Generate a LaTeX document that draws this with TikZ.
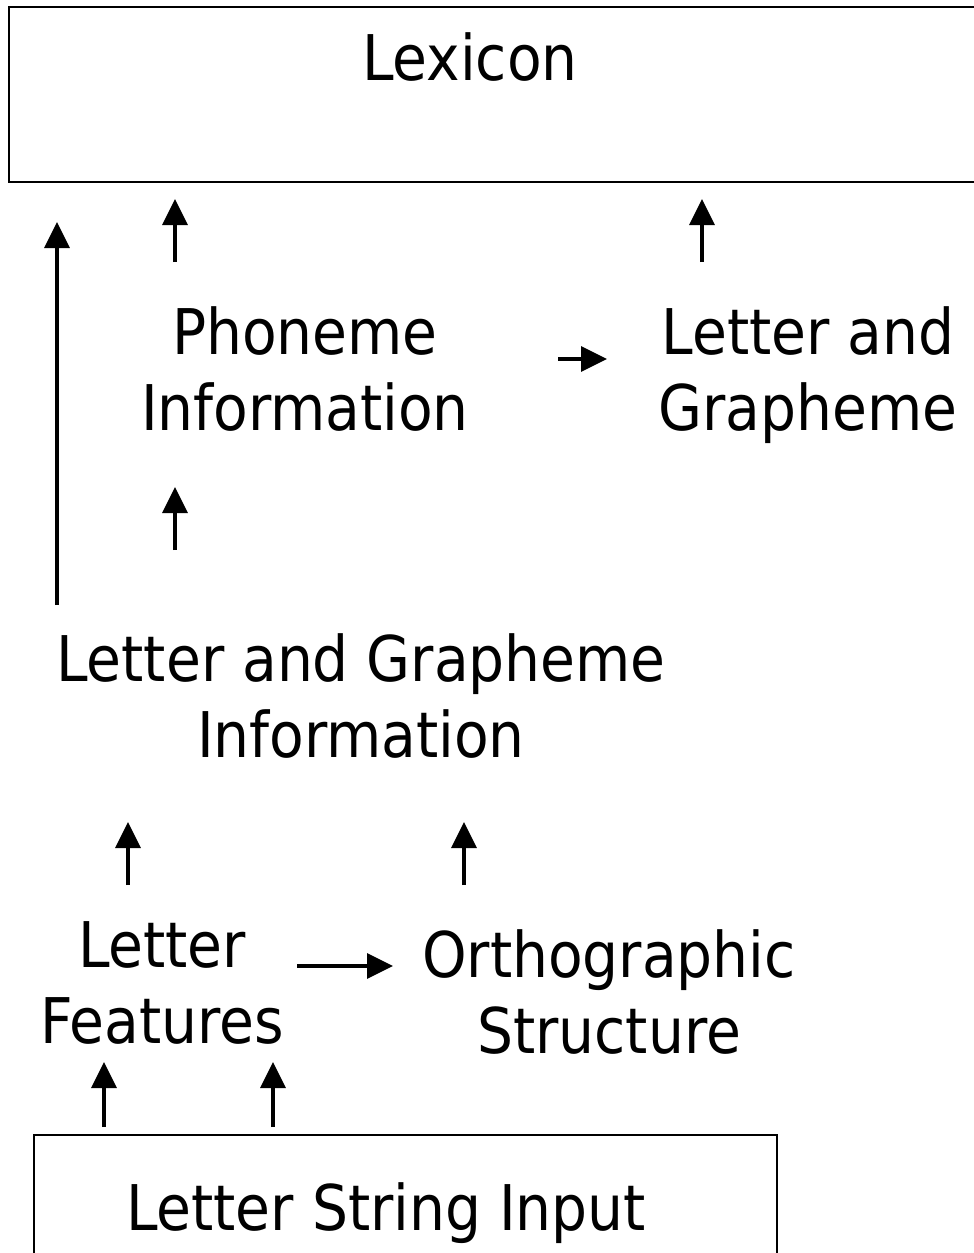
\documentclass[tikz,border=0pt]{standalone}
\usepackage{fontspec}
\setmainfont{DejaVu Sans Condensed}
\usetikzlibrary{arrows.meta}
\begin{document}
\begin{tikzpicture}[x=1pt,y=-1pt,
  lbl/.style={inner sep=0pt,align=center,font=\fontsize{63}{76}\selectfont,anchor=base},
  upar/.style={line width=3.5pt,-{Triangle[width=25pt,length=26pt]}},
  boxline/.style={line width=1.8pt}]
\useasboundingbox (0,0) rectangle (974,1253);
% boxes
\draw[boxline] (980,7) -- (9,7) -- (9,182) -- (980,182);
\draw[boxline] (34,1260) -- (34,1135) -- (777,1135) -- (777,1260);
% texts (base anchor = baseline of last line)
\node[lbl] (lex) at (470,80) {Lexicon};
\node[lbl] (phon) at (305,430) {Phoneme\\Information};
\node[lbl] (lg1) at (808,430) {Letter and\\Grapheme};
\node[lbl] (lgi) at (361,757) {Letter and Grapheme\\Information};
\node[lbl] (lf) at (162,1043) {Letter\\Features};
\node[lbl] (orth) at (609,1053) {Orthographic\\Structure};
\node[lbl] (lsi) at (386,1230) {Letter String Input};
% arrow coordinates
\coordinate (a1s) at (57,605); \coordinate (a1e) at (57,222);
\coordinate (a2s) at (175,262); \coordinate (a2e) at (175,199);
\coordinate (a3s) at (702,262); \coordinate (a3e) at (702,199);
\coordinate (a4s) at (558,359); \coordinate (a4e) at (607,359);
\coordinate (a5s) at (175,550); \coordinate (a5e) at (175,487);
\coordinate (a6s) at (128,885); \coordinate (a6e) at (128,822);
\coordinate (a7s) at (464,885); \coordinate (a7e) at (464,822);
\coordinate (a8s) at (297,966); \coordinate (a8e) at (393,966);
\coordinate (a9s) at (104,1127); \coordinate (a9e) at (104,1062);
\coordinate (a10s) at (273,1127); \coordinate (a10e) at (273,1062);
\foreach \i in {1,...,10} {\draw[upar] (a\i s) -- (a\i e);}
\end{tikzpicture}
\end{document}
